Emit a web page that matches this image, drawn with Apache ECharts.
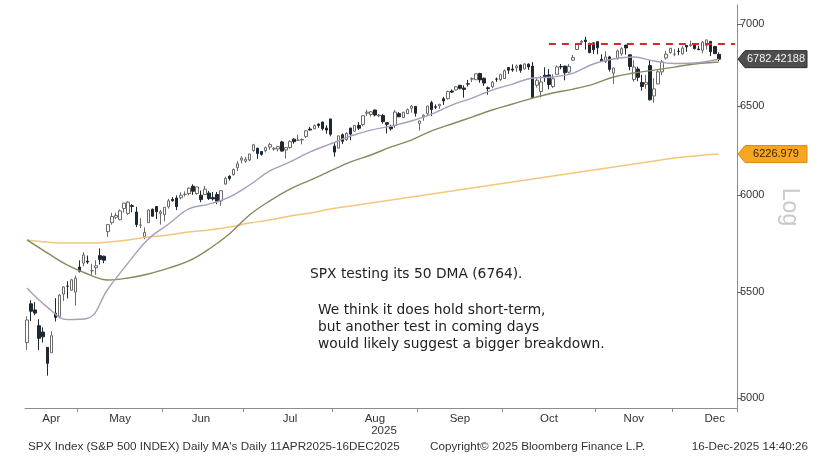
<!DOCTYPE html>
<html><head><meta charset="utf-8">
<script src="https://cdn.jsdelivr.net/npm/echarts@6/dist/echarts.min.js"></script>
<style>html,body{margin:0;padding:0;background:#fff}#c{width:836px;height:457px}</style>
</head><body><div id="c"></div>
<script>
// ---- categories (trading days) ----
const dates = [
'2025-04-11','2025-04-14','2025-04-15','2025-04-16','2025-04-17','2025-04-21','2025-04-22','2025-04-23','2025-04-24','2025-04-25','2025-04-28','2025-04-29','2025-04-30',
'2025-05-01','2025-05-02','2025-05-05','2025-05-06','2025-05-07','2025-05-08','2025-05-09','2025-05-12','2025-05-13','2025-05-14','2025-05-15','2025-05-16','2025-05-19','2025-05-20','2025-05-21','2025-05-22','2025-05-23','2025-05-27','2025-05-28','2025-05-29','2025-05-30',
'2025-06-02','2025-06-03','2025-06-04','2025-06-05','2025-06-06','2025-06-09','2025-06-10','2025-06-11','2025-06-12','2025-06-13','2025-06-16','2025-06-17','2025-06-18','2025-06-20','2025-06-23','2025-06-24','2025-06-25','2025-06-26','2025-06-27','2025-06-30',
'2025-07-01','2025-07-02','2025-07-03','2025-07-07','2025-07-08','2025-07-09','2025-07-10','2025-07-11','2025-07-14','2025-07-15','2025-07-16','2025-07-17','2025-07-18','2025-07-21','2025-07-22','2025-07-23','2025-07-24','2025-07-25','2025-07-28','2025-07-29','2025-07-30','2025-07-31',
'2025-08-01','2025-08-04','2025-08-05','2025-08-06','2025-08-07','2025-08-08','2025-08-11','2025-08-12','2025-08-13','2025-08-14','2025-08-15','2025-08-18','2025-08-19','2025-08-20','2025-08-21','2025-08-22','2025-08-25','2025-08-26','2025-08-27','2025-08-28','2025-08-29',
'2025-09-02','2025-09-03','2025-09-04','2025-09-05','2025-09-08','2025-09-09','2025-09-10','2025-09-11','2025-09-12','2025-09-15','2025-09-16','2025-09-17','2025-09-18','2025-09-19','2025-09-22','2025-09-23','2025-09-24','2025-09-25','2025-09-26','2025-09-29','2025-09-30',
'2025-10-01','2025-10-02','2025-10-03','2025-10-06','2025-10-07','2025-10-08','2025-10-09','2025-10-10','2025-10-13','2025-10-14','2025-10-15','2025-10-16','2025-10-17','2025-10-20','2025-10-21','2025-10-22','2025-10-23','2025-10-24','2025-10-27','2025-10-28','2025-10-29','2025-10-30','2025-10-31',
'2025-11-03','2025-11-04','2025-11-05','2025-11-06','2025-11-07','2025-11-10','2025-11-11','2025-11-12','2025-11-13','2025-11-14','2025-11-17','2025-11-18','2025-11-19','2025-11-20','2025-11-21','2025-11-24','2025-11-25','2025-11-26','2025-11-28',
'2025-12-01','2025-12-02','2025-12-03','2025-12-04','2025-12-05','2025-12-08','2025-12-09','2025-12-10','2025-12-11','2025-12-12','2025-12-15','2025-12-16'
];
const padDays = ['2025-12-17','2025-12-18','2025-12-19','2025-12-22'];

// ---- OHLC ----
const opens = [
5255.56,5441.96,5411.99,5335.75,5305.45,5232.94,5207.67,5395.92,5381.38,5489.73,5529.22,5508.87,5499.44,
5625.14,5645.12,5655.32,5605.88,5621.43,5683.43,5679.90,5807.10,5854.57,5882.50,5869.79,5929.09,5902.88,5944.66,5910.78,5841.26,5781.89,5854.07,5925.54,5939.92,5903.67,
5896.68,5938.56,5978.94,5985.67,5987.06,6004.60,6009.91,6049.38,6009.90,6000.56,6004.00,6012.15,5987.93,6004.67,5969.67,6061.21,6104.21,6112.11,6150.70,6193.36,
6187.25,6193.80,6246.47,6259.92,6241.59,6245.74,6266.96,6255.68,6255.14,6295.25,6250.21,6264.05,6311.23,6304.74,6306.60,6326.90,6368.60,6370.01,6397.69,6409.36,6374.31,6427.02,
6271.71,6260.28,6336.00,6309.31,6374.68,6356.44,6390.00,6395.17,6460.65,6453.42,6478.87,6445.02,6446.55,6405.42,6380.84,6388.67,6457.67,6435.23,6457.83,6488.64,6500.28,
6401.51,6439.11,6458.14,6521.98,6498.02,6503.17,6545.04,6545.38,6590.66,6596.90,6624.55,6608.38,6633.61,6661.52,6657.85,6695.57,6666.91,6609.56,6616.21,6661.55,6658.44,
6664.72,6731.07,6722.14,6729.03,6746.50,6722.39,6751.87,6740.01,6625.03,6587.23,6684.65,6686.83,6617.41,6690.45,6736.94,6740.21,6703.37,6775.53,6841.56,6886.18,6899.60,6869.25,6882.59,
6889.59,6781.46,6765.93,6796.01,6697.41,6785.59,6815.14,6868.71,6808.86,6658.69,6722.24,6641.61,6630.21,6743.25,6561.30,6632.82,6704.95,6789.44,6822.44,
6812.43,6830.95,6815.29,6866.47,6866.32,6872.37,6844.50,6836.87,6866.46,6891.26,6860.60,6811.67
];
const highs = [
5381.46,5459.46,5450.41,5367.24,5328.31,5232.94,5309.60,5469.69,5489.40,5528.11,5553.66,5565.40,5581.84,
5658.91,5700.70,5683.94,5641.73,5659.66,5720.10,5683.34,5844.19,5906.63,5906.94,5924.21,5958.62,5968.61,5953.06,5938.37,5878.08,5829.51,5924.21,5929.00,5943.13,5922.14,
5937.40,5981.35,5990.48,5999.70,6016.87,6021.31,6043.01,6059.40,6045.43,6026.16,6050.83,6023.25,6018.25,6018.20,6028.21,6101.78,6108.51,6146.52,6187.68,6215.08,
6210.78,6227.60,6284.65,6262.59,6242.70,6269.79,6290.22,6266.27,6272.52,6302.04,6265.44,6304.56,6315.61,6336.08,6316.12,6360.64,6381.31,6395.82,6401.07,6409.82,6389.80,6427.02,
6287.82,6329.94,6343.85,6350.12,6375.56,6389.45,6409.26,6446.55,6480.28,6473.75,6481.34,6455.35,6456.59,6407.30,6393.59,6478.95,6466.89,6468.93,6487.54,6508.23,6500.28,
6416.54,6453.67,6502.54,6532.65,6511.39,6513.19,6555.97,6592.83,6600.21,6618.15,6626.99,6624.21,6656.36,6671.82,6695.04,6699.52,6670.45,6617.35,6650.38,6671.05,6693.46,
6718.64,6731.94,6750.87,6749.52,6749.94,6753.72,6756.37,6764.22,6664.65,6680.85,6732.89,6721.40,6690.34,6744.35,6752.48,6741.38,6752.53,6807.51,6877.16,6899.86,6920.34,6883.46,6885.68,
6890.49,6811.94,6830.41,6802.98,6729.80,6841.32,6855.15,6869.13,6810.28,6775.39,6736.42,6687.68,6686.30,6777.87,6666.73,6716.01,6776.63,6833.77,6849.97,
6843.66,6851.54,6862.42,6866.47,6895.78,6872.37,6864.52,6894.01,6901.00,6895.09,6863.11,6823.49
];
const lows = [
5220.77,5358.02,5386.44,5220.79,5255.58,5101.63,5207.67,5356.38,5371.96,5455.86,5468.64,5505.70,5433.24,
5597.35,5628.84,5640.81,5586.93,5585.98,5638.11,5644.51,5779.48,5843.91,5872.89,5867.44,5907.30,5895.69,5909.26,5830.91,5825.82,5767.41,5854.07,5886.81,5873.80,5843.66,
5861.43,5929.00,5966.11,5921.20,5978.63,5994.18,6000.26,6002.32,6003.88,5963.21,6004.00,5974.80,5971.89,5952.56,5943.23,6058.02,6080.25,6107.68,6132.35,6174.97,
6177.97,6188.29,6240.00,6201.46,6217.94,6236.19,6251.30,6245.40,6242.13,6241.45,6201.80,6257.11,6285.61,6303.79,6281.71,6317.49,6360.57,6368.53,6375.63,6360.21,6342.05,6327.94,
6212.69,6260.28,6283.12,6301.45,6305.00,6356.44,6364.06,6385.76,6445.02,6441.07,6441.94,6437.56,6400.22,6343.85,6360.57,6374.51,6438.06,6432.00,6457.45,6463.00,6441.07,
6360.58,6416.17,6445.73,6443.98,6483.70,6485.41,6508.69,6539.74,6579.43,6593.84,6600.08,6551.41,6617.25,6643.51,6656.20,6639.34,6620.71,6569.22,6607.60,6644.95,6649.61,
6662.08,6693.23,6705.67,6705.70,6699.84,6719.61,6716.92,6550.78,6610.96,6552.62,6645.40,6600.97,6607.56,6690.45,6720.95,6654.32,6695.14,6771.81,6838.44,6870.18,6841.05,6818.30,6813.20,
6812.27,6766.19,6759.39,6707.01,6631.42,6778.99,6803.39,6810.22,6714.17,6646.15,6648.96,6592.15,6604.01,6534.27,6521.20,6631.47,6685.77,6779.29,6815.85,
6799.94,6806.96,6810.43,6827.12,6858.29,6841.52,6837.18,6818.16,6841.13,6801.19,6812.80,6770.00
];
const closes = [
5363.36,5405.97,5396.63,5275.70,5282.70,5158.20,5287.76,5375.86,5484.77,5525.21,5528.75,5560.83,5569.06,
5604.14,5686.67,5650.38,5606.91,5631.28,5663.94,5659.91,5844.19,5886.55,5892.58,5916.93,5958.38,5963.60,5940.46,5844.61,5842.01,5802.82,5921.54,5888.55,5912.17,5911.69,
5935.94,5970.37,5970.81,5939.30,6000.36,6005.88,6038.81,6022.24,6045.26,5976.97,6033.11,5982.72,5980.87,5967.84,6025.17,6092.18,6092.16,6141.02,6173.07,6204.95,
6198.01,6227.42,6279.35,6229.98,6225.52,6263.26,6280.46,6259.75,6268.56,6243.76,6263.70,6297.36,6296.79,6305.60,6309.62,6358.91,6363.35,6388.64,6389.77,6370.86,6362.90,6339.39,
6238.01,6329.94,6299.19,6345.06,6340.00,6389.45,6373.45,6445.76,6466.58,6468.54,6449.80,6449.15,6411.37,6395.78,6370.17,6466.91,6439.32,6465.94,6481.40,6501.86,6460.26,
6415.54,6448.26,6502.08,6481.50,6495.15,6512.61,6532.04,6587.47,6584.29,6615.28,6606.76,6600.35,6631.96,6664.36,6693.75,6656.92,6637.97,6604.72,6643.70,6661.21,6688.46,
6711.20,6715.35,6715.79,6740.28,6714.59,6753.72,6735.11,6552.51,6654.72,6644.31,6671.06,6629.07,6664.01,6735.13,6735.35,6699.40,6738.44,6791.69,6875.16,6890.89,6890.59,6822.34,6840.20,
6851.97,6771.55,6796.29,6720.32,6728.80,6832.43,6846.61,6850.92,6737.49,6734.11,6672.41,6617.32,6642.16,6538.76,6602.99,6705.12,6765.88,6812.61,6849.09,
6812.63,6829.37,6849.72,6857.12,6870.40,6846.51,6840.51,6886.68,6901.00,6827.41,6816.51,6782.42
];

// ---- moving averages (trading-day index -> value) ----
const maIdx  = [0,5,10,15,20,25,30,35,40,45,50,55,60,65,70,75,80,85,90,95,100,105,110,115,120,125,130,135,140,145,150,155,160,165,170,171];
const ma20  = [5520,5426,5365,5372,5515,5646,5769,5847,5927,5953,5991,6056,6133,6183,6239,6284,6329,6363,6386,6415,6455,6508,6549,6596,6632,6668,6674,6698,6753,6783,6795,6771,6756,6759,6777,6782];
const ma50  = [5764,5697,5635,5590,5560,5570,5590,5620,5656,5717,5795,5895,5970,6034,6083,6133,6183,6222,6267,6306,6358,6398,6438,6479,6514,6549,6579,6602,6632,6674,6698,6716,6734,6753,6763,6764];
const ma200 = [5764,5753,5748,5748,5753,5764,5779,5790,5805,5816,5831,5852,5868,5890,5905,5927,5943,5959,5975,5991,6007,6023,6040,6056,6072,6089,6105,6122,6138,6155,6172,6188,6205,6216,6226,6227];

// ---- axis ticks / levels / labels ----
const yTicks = [5000,5500,6000,6500,7000];
const monthNames = ['Jan','Feb','Mar','Apr','May','Jun','Jul','Aug','Sep','Oct','Nov','Dec'];
const monthLabelIdx = [6,23,43,65,86,107,129,150,170];
const lastPrice = 6782.42188;
const lastPriceText = '6782.42188';
const ma200Last = 6226.979;
const ma200Text = '6226.979';
const resistance = 6877;
const resistanceStartIdx = 129;

const LN = Math.log;
const cats = dates.concat(padDays);
const FONT = 'Liberation Sans, Arial, sans-serif';

const candleData = dates.map((d,i)=>[LN(opens[i]),LN(closes[i]),LN(lows[i]),LN(highs[i])]);
const maSeries = (vals)=>maIdx.map((ix,k)=>[ix, LN(vals[k])]);

const tickSet = new Set();
for (let i=1;i<dates.length;i++){ if (dates[i].slice(5,7)!==dates[i-1].slice(5,7)) tickSet.add(i); }
const labelSet = new Set(monthLabelIdx);

const chart = echarts.init(document.getElementById('c'), null, {renderer:'canvas'});
chart.setOption({
  animation:false,
  backgroundColor:'#ffffff',
  grid:{left:25,right:99,top:5,bottom:49,outerBoundsMode:'none'},
  xAxis:{
    type:'category', data:cats, boundaryGap:true,
    axisLine:{show:true,lineStyle:{color:'#8c8c8c',width:1}},
    axisTick:{show:true,length:4,alignWithLabel:false,interval:(i)=>tickSet.has(i),lineStyle:{color:'#8c8c8c'}},
    axisLabel:{interval:(i)=>labelSet.has(i),formatter:(v)=>monthNames[parseInt(v.slice(5,7),10)-1],
      color:'#333',fontSize:11.5,fontFamily:FONT,margin:5},
    splitLine:{show:false}
  },
  yAxis:{
    type:'value', position:'right', scale:true,
    min:LN(4955), max:LN(7121),
    axisLine:{show:true,lineStyle:{color:'#8c8c8c',width:1}},
    axisTick:{show:true,length:5,customValues:yTicks.map(LN),lineStyle:{color:'#666'}},
    axisLabel:{customValues:yTicks.map(LN),formatter:(v)=>String(Math.round(Math.exp(v))),
      color:'#333',fontSize:11,fontFamily:FONT,margin:3},
    splitLine:{show:false}
  },
  series:[
    {type:'candlestick', name:'SPX', data:candleData, barWidth:3,
     itemStyle:{color:'#ffffff',color0:'#1e2830',borderColor:'#6a6a6a',borderColor0:'#1e2830',borderWidth:1},
     markLine:{silent:true,symbol:['none','none'],label:{show:false},
       lineStyle:{color:'#d42a2a',width:2,type:[7,6]},
       data:[[{coord:[resistanceStartIdx,LN(resistance)]},{coord:[cats.length-1,LN(resistance)]}]]}
    },
    {type:'line', name:'200 DMA', data:maSeries(ma200), symbol:'none', smooth:0.4, lineStyle:{color:'#f2c77c',width:1.5}},
    {type:'line', name:'50 DMA', data:maSeries(ma50), symbol:'none', smooth:0.4, lineStyle:{color:'#868a5e',width:1.4}},
    {type:'line', name:'20 DMA', data:maSeries(ma20), symbol:'none', smooth:0.4, lineStyle:{color:'#a99dbb',width:1.4}}
  ]
});

// price tags placed through the axis scale
const yLast = chart.convertToPixel({yAxisIndex:0}, LN(lastPrice));
const y200 = chart.convertToPixel({yAxisIndex:0}, LN(ma200Last));
const axisX = 737;
function tag(y, fill, stroke, txt, txtColor){
  return [
    {type:'polygon', shape:{points:[[axisX+1,y],[axisX+8,y-8.5],[807,y-8.5],[807,y+8.5],[axisX+8,y+8.5]]},
     style:{fill:fill,stroke:stroke,lineWidth:1}, z:10},
    {type:'text', x:776, y:y, style:{text:txt,fill:txtColor,font:'11px '+FONT,align:'center',verticalAlign:'middle'}, z:11}
  ];
}
const NOTE_FONT = '13.8px DejaVu Sans, sans-serif';
const FOOT_FONT = '11.7px '+FONT;
chart.setOption({graphic:[
  ...tag(yLast,'#4e4e4e','#2e2e2e',lastPriceText,'#f2f2f2'),
  ...tag(y200,'#f6a623','#d98a10',ma200Text,'#3b2300'),
  {type:'text', x:789, y:207, rotation:-Math.PI/2,
   style:{text:'Log',fill:'#c9c9c9',font:'23px '+FONT,align:'center',verticalAlign:'middle'}},
  {type:'text', x:384, y:431, style:{text:'2025',fill:'#333',font:'11.5px '+FONT,align:'center',verticalAlign:'middle'}},
  {type:'text', x:310, y:274, style:{text:'SPX testing its 50 DMA (6764).',fill:'#222',font:NOTE_FONT,align:'left',verticalAlign:'middle'}},
  {type:'text', x:318, y:302, style:{text:'We think it does hold short-term,\nbut another test in coming days\nwould likely suggest a bigger breakdown.',
     fill:'#222',font:NOTE_FONT,lineHeight:17,align:'left',verticalAlign:'top'}},
  {type:'text', x:28, y:447, style:{text:"SPX Index (S&P 500 INDEX) Daily MA's Daily 11APR2025-16DEC2025",fill:'#333',font:FOOT_FONT,align:'left',verticalAlign:'middle'}},
  {type:'text', x:430, y:447, style:{text:'Copyright\u00A9 2025 Bloomberg Finance L.P.',fill:'#333',font:FOOT_FONT,align:'left',verticalAlign:'middle'}},
  {type:'text', x:808, y:447, style:{text:'16-Dec-2025 14:40:26',fill:'#333',font:FOOT_FONT,align:'right',verticalAlign:'middle'}}
]});
</script>
</body></html>
